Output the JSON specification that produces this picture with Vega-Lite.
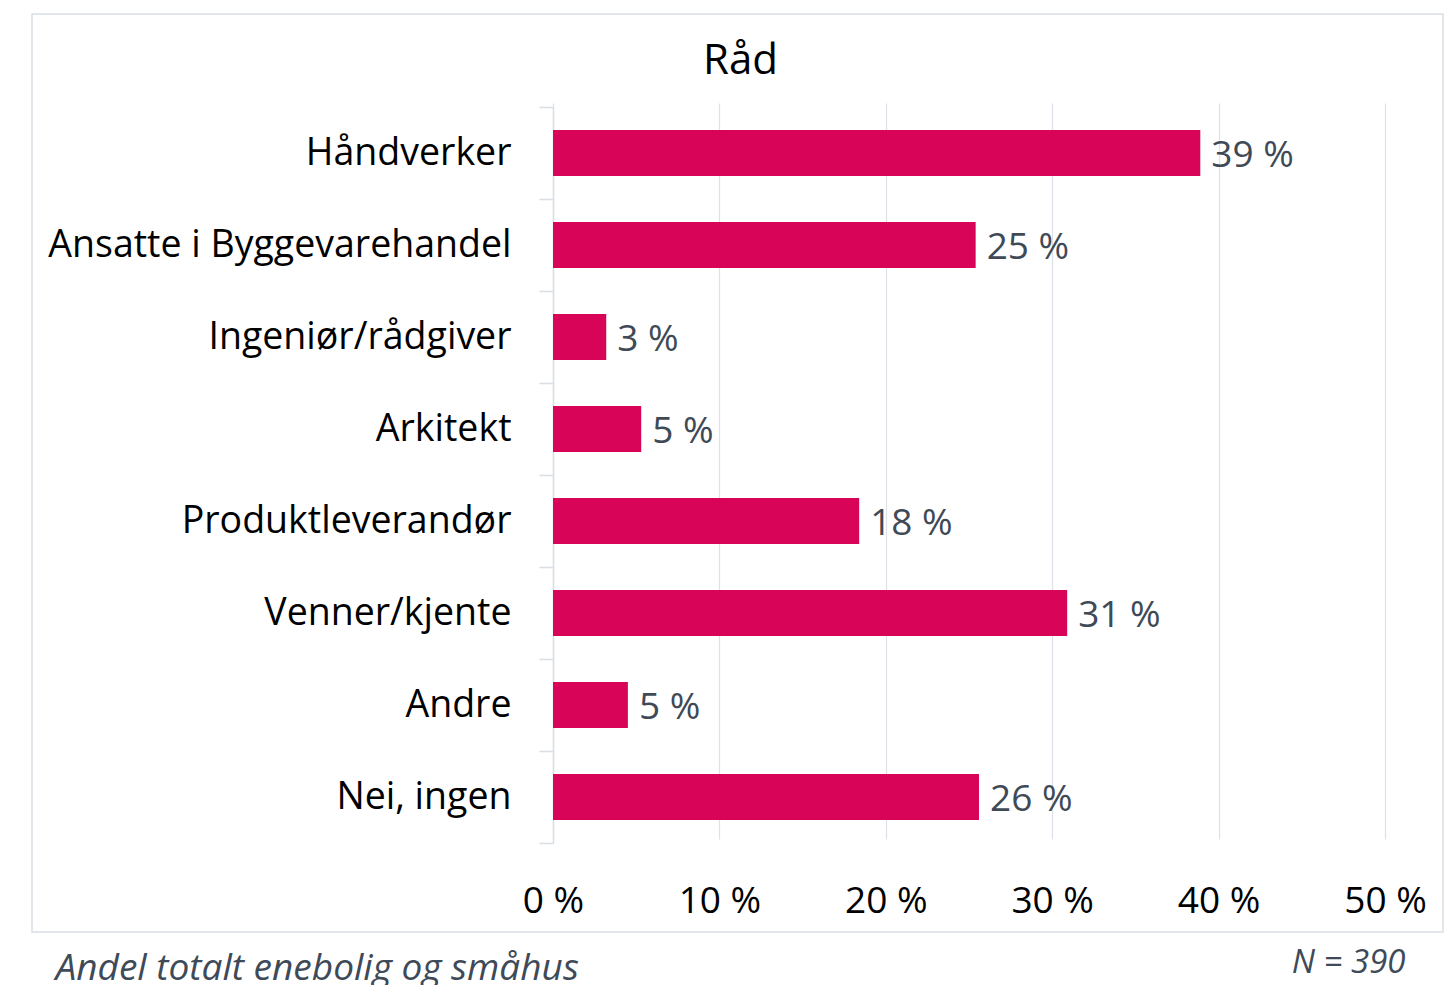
{
  "$schema": "https://vega.github.io/schema/vega-lite/v6.json",
  "width": 1411,
  "height": 918,
  "autosize": {"type": "none"},
  "padding": {"left": 32, "top": 14, "right": 10, "bottom": 53},
  "background": "white",
  "config": {"view": {"stroke": "#d9dee4", "strokeWidth": 1.5}, "font": "Open Sans"},
  "data": {"values": [
    {"cat": "Håndverker", "v": 38.9, "label": "39 %"},
    {"cat": "Ansatte i Byggevarehandel", "v": 25.4, "label": "25 %"},
    {"cat": "Ingeniør/rådgiver", "v": 3.2, "label": "3 %"},
    {"cat": "Arkitekt", "v": 5.3, "label": "5 %"},
    {"cat": "Produktleverandør", "v": 18.4, "label": "18 %"},
    {"cat": "Venner/kjente", "v": 30.9, "label": "31 %"},
    {"cat": "Andre", "v": 4.5, "label": "5 %"},
    {"cat": "Nei, ingen", "v": 25.6, "label": "26 %"}
  ]},
  "encoding": {
    "y": {
      "field": "cat", "type": "nominal", "sort": null,
      "scale": {"range": [93, 829], "paddingInner": 0, "paddingOuter": 0},
      "axis": {
        "title": "Andel totalt enebolig og småhus",
        "titleAngle": 0, "titleX": -498, "titleY": 965, "titleAlign": "left", "titleBaseline": "alphabetic",
        "titleFontStyle": "italic", "titleFontWeight": "normal", "titleFontSize": 37, "titleColor": "#3e4a58", "titleFont": "Open Sans",
        "offset": -521, "domainColor": "#d9dee4", "domainWidth": 1.5, "tickColor": "#d9dee4", "tickWidth": 1.5, "tickSize": 14, "tickBand": "extent",
        "labelPadding": 28, "labelFontSize": 37.5, "labelColor": "#000000", "labelFont": "Open Sans", "labelLimit": 0, "grid": false
      }
    }
  },
  "layer": [
    {
      "mark": {"type": "bar", "color": "#d70457", "height": {"band": 0.5}},
      "encoding": {
        "x": {
          "field": "v", "type": "quantitative",
          "scale": {"domain": [0, 50], "range": [521, 1353], "nice": false, "zero": true},
          "axis": {
            "values": [0, 10, 20, 30, 40, 50], "labelExpr": "datum.value + ' %'",
            "domain": false, "ticks": false, "grid": true, "gridColor": "#dde2e8", "gridWidth": 1.2,
            "offset": -89, "labelFontSize": 37, "labelColor": "#000000", "labelFont": "Open Sans", "labelBaseline": "alphabetic", "labelPadding": 69, "labelFlush": false, "labelOverlap": false,
            "title": "N = 390", "titleX": 1373, "titleY": 129, "titleAlign": "right", "titleBaseline": "alphabetic",
            "titleFontStyle": "italic", "titleFontWeight": "normal", "titleFontSize": 33, "titleColor": "#3e4a58", "titleFont": "Open Sans"
          }
        }
      }
    },
    {
      "mark": {"type": "text", "align": "left", "dx": 11, "dy": 3, "baseline": "middle", "fontSize": 37, "color": "#404a56", "font": "Open Sans"},
      "encoding": {
        "x": {
          "field": "v", "type": "quantitative",
          "axis": {
            "orient": "top", "offset": -93, "labels": false, "ticks": false, "domain": false, "grid": false,
            "title": "Råd", "titleX": 708, "titleY": -34, "titleAlign": "center", "titleBaseline": "alphabetic",
            "titleFontSize": 42, "titleFontWeight": "normal", "titleColor": "#000000", "titleFont": "Open Sans"
          }
        },
        "text": {"field": "label"}
      }
    }
  ],
  "resolve": {"axis": {"x": "independent"}}
}
